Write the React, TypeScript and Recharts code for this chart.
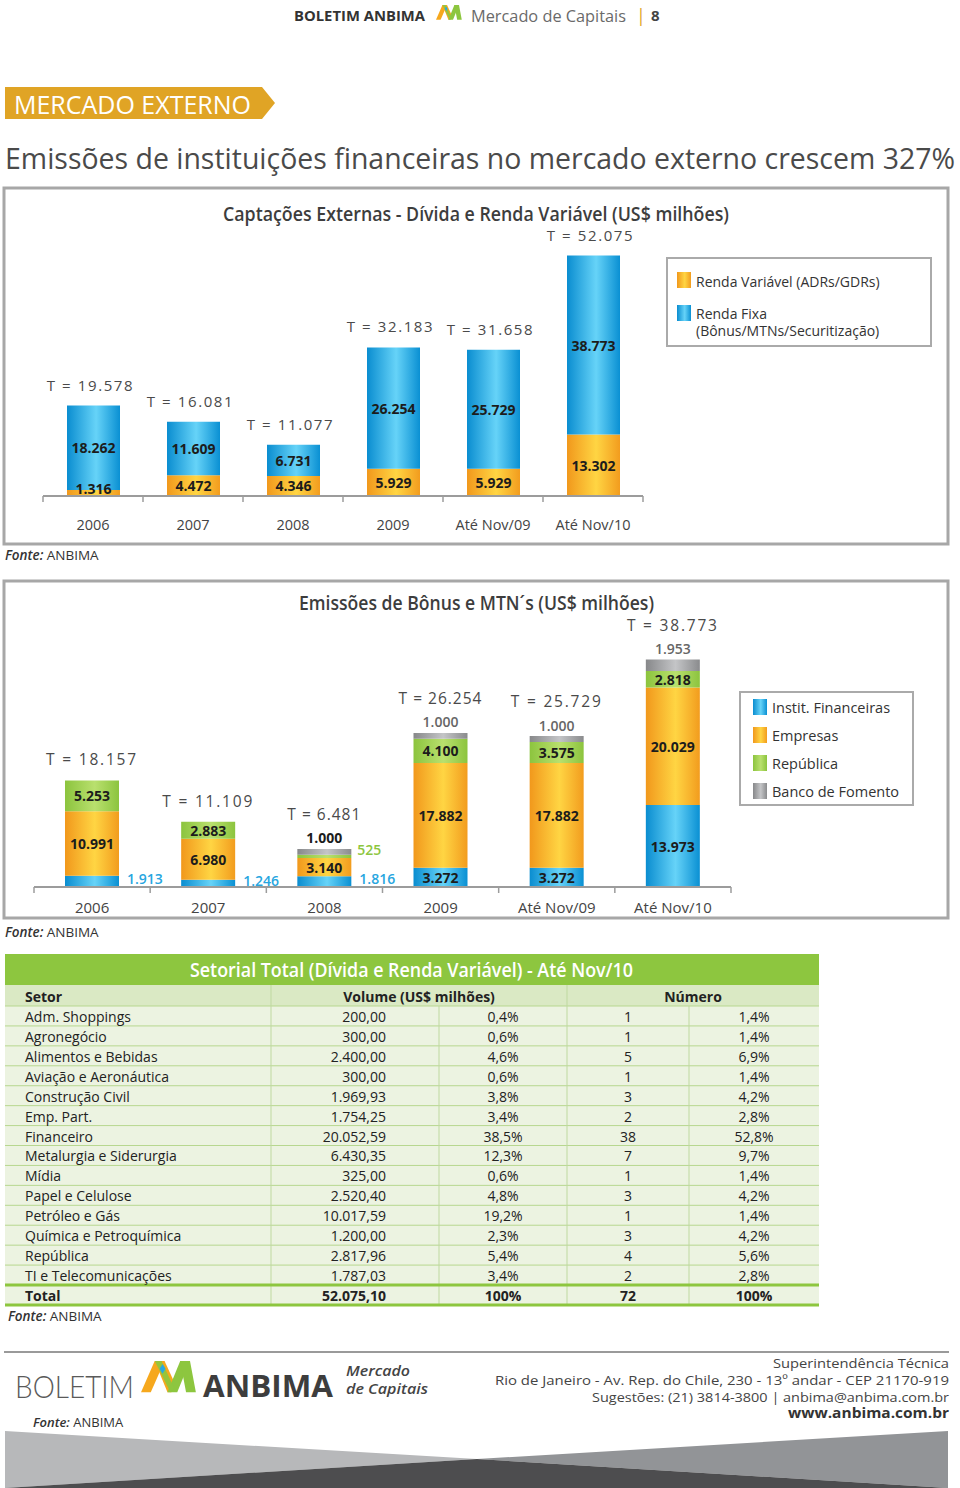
import React from 'react';
import { BarChart, Bar, XAxis, YAxis, LabelList } from 'recharts';

// ---------- Data: Captações Externas ----------
const captacoesCategorias = ['2006', '2007', '2008', '2009', 'Até Nov/09', 'Até Nov/10'];
const rendaVariavel = [1316, 4472, 4346, 5929, 5929, 13302];
const rendaFixa = [18262, 11609, 6731, 26254, 25729, 38773];
const captacoesTotais = [19578, 16081, 11077, 32183, 31658, 52075];

// ---------- Data: Emissões de Bônus e MTN's ----------
const bonusCategorias = ['2006', '2007', '2008', '2009', 'Até Nov/09', 'Até Nov/10'];
const institFinanceiras = [1913, 1246, 1816, 3272, 3272, 13973];
const empresas = [10991, 6980, 3140, 17882, 17882, 20029];
const republica = [5253, 2883, 525, 4100, 3575, 2818];
const bancoFomento = [0, 0, 1000, 1000, 1000, 1953];
const bonusTotais = [18157, 11109, 6481, 26254, 25729, 38773];

// ---------- Data: Setorial table ----------
const setores = [
  'Adm. Shoppings', 'Agronegócio', 'Alimentos e Bebidas', 'Aviação e Aeronáutica', 'Construção Civil',
  'Emp. Part.', 'Financeiro', 'Metalurgia e Siderurgia', 'Mídia', 'Papel e Celulose',
  'Petróleo e Gás', 'Química e Petroquímica', 'República', 'TI e Telecomunicações',
];
const volumes = [200.0, 300.0, 2400.0, 300.0, 1969.93, 1754.25, 20052.59, 6430.35, 325.0, 2520.4, 10017.59, 1200.0, 2817.96, 1787.03];
const volumePct = [0.4, 0.6, 4.6, 0.6, 3.8, 3.4, 38.5, 12.3, 0.6, 4.8, 19.2, 2.3, 5.4, 3.4];
const numeros = [1, 1, 5, 1, 3, 2, 38, 7, 1, 3, 1, 3, 4, 2];
const numeroPct = [1.4, 1.4, 6.9, 1.4, 4.2, 2.8, 52.8, 9.7, 1.4, 4.2, 1.4, 4.2, 5.6, 2.8];
const totalVolume = 52075.1;
const totalNumero = 72;

const FONT = "'Open Sans', 'Noto Sans', sans-serif";

const fmtInt = (n: number) => String(Math.round(n)).replace(/\B(?=(\d{3})+(?!\d))/g, '.');
const fmtDec = (n: number) => {
  const [i, d] = n.toFixed(2).split('.');
  return i.replace(/\B(?=(\d{3})+(?!\d))/g, '.') + ',' + d;
};
const fmtPct = (n: number) => n.toFixed(1).replace('.', ',') + '%';

const boxOf = (p: any) => {
  const v = p.viewBox || {};
  return {
    x: Number(v.x ?? p.x),
    y: Number(v.y ?? p.y),
    w: Number(v.width ?? p.width),
    h: Number(v.height ?? p.height),
  };
};

function BandTick(props: any) {
  const { x, y, payload, index, band, count, offset, fontSize } = props;
  const left = x - band / 2;
  const right = x + band / 2;
  return (
    <g>
      <line x1={left} x2={left} y1={y} y2={y + 6} stroke="#9c9c9c" strokeWidth={1.5} />
      {index === count - 1 && <line x1={right} x2={right} y1={y} y2={y + 6} stroke="#9c9c9c" strokeWidth={1.5} />}
      <text x={x} y={y + offset} textAnchor="middle" dominantBaseline="central" fontFamily={FONT} fontSize={fontSize} fill="#444">
        {payload.value}
      </text>
    </g>
  );
}

const Gradients = ({ prefix }: { prefix: string }) => (
  <defs>
    <linearGradient id={prefix + 'Blue'} x1="0" y1="0" x2="1" y2="0">
      <stop offset="0" stopColor="#0a8dd0" />
      <stop offset="0.55" stopColor="#66d3f8" />
      <stop offset="1" stopColor="#0a90d3" />
    </linearGradient>
    <linearGradient id={prefix + 'Orange'} x1="0" y1="0" x2="1" y2="0">
      <stop offset="0" stopColor="#f1981c" />
      <stop offset="0.55" stopColor="#ffd543" />
      <stop offset="1" stopColor="#f29c1e" />
    </linearGradient>
    <linearGradient id={prefix + 'Green'} x1="0" y1="0" x2="1" y2="0">
      <stop offset="0" stopColor="#8cc43e" />
      <stop offset="0.55" stopColor="#b9e06e" />
      <stop offset="1" stopColor="#8cc43e" />
    </linearGradient>
    <linearGradient id={prefix + 'Gray'} x1="0" y1="0" x2="1" y2="0">
      <stop offset="0" stopColor="#87888a" />
      <stop offset="0.55" stopColor="#c4c5c7" />
      <stop offset="1" stopColor="#8a8b8d" />
    </linearGradient>
  </defs>
);

// ---------- Chart 1 ----------
const C1 = { w: 700, h: 360, m: { top: 32, right: 57, left: 43, bottom: 11 } };
const c1Band = (C1.w - C1.m.left - C1.m.right) / captacoesCategorias.length;
const c1Data = captacoesCategorias.map((cat, i) => ({ cat, rv: rendaVariavel[i], rf: rendaFixa[i] }));
const c1Index = (b: { x: number; w: number }) => Math.floor((b.x + b.w / 2 - C1.m.left) / c1Band);

const c1Inner = (p: any) => {
  const b = boxOf(p);
  const cy = Math.min(b.y + b.h / 2, b.y + b.h - 8);
  return (
    <text x={b.x + b.w / 2} y={cy} textAnchor="middle" dominantBaseline="central" fontFamily={FONT} fontSize={14} fontWeight={700} fill="#1c1c1c">
      {fmtInt(Number(p.value))}
    </text>
  );
};
const c1Total = (p: any) => {
  const b = boxOf(p);
  const idx = c1Index(b);
  return (
    <text x={b.x + b.w / 2 - 3} y={b.y - 21} textAnchor="middle" dominantBaseline="central" fontFamily={FONT} fontSize={15} letterSpacing={1.6} fill="#4a4a4a">
      {'T = ' + fmtInt(captacoesTotais[idx])}
    </text>
  );
};

function Chart1() {
  return (
    <BarChart width={C1.w} height={C1.h} data={c1Data} margin={C1.m}>
      <Gradients prefix="c1" />
      <XAxis
        dataKey="cat"
        interval={0}
        height={40}
        tickSize={0}
        tickMargin={0}
        tickLine={false}
        axisLine={{ stroke: '#9c9c9c', strokeWidth: 2 }}
        tick={<BandTick band={c1Band} count={captacoesCategorias.length} offset={28} fontSize={14.5} />}
      />
      <YAxis hide domain={[0, 60000]} />
      <Bar dataKey="rv" stackId="a" fill="url(#c1Orange)" barSize={53} isAnimationActive={false}>
        <LabelList dataKey="rv" content={c1Inner} />
      </Bar>
      <Bar dataKey="rf" stackId="a" fill="url(#c1Blue)" barSize={53} isAnimationActive={false}>
        <LabelList dataKey="rf" content={c1Inner} />
        <LabelList dataKey="rf" content={c1Total} />
      </Bar>
    </BarChart>
  );
}

// ---------- Chart 2 ----------
const C2 = { w: 780, h: 340, m: { top: 43, right: 49, left: 34, bottom: 3 } };
const c2Band = (C2.w - C2.m.left - C2.m.right) / bonusCategorias.length;
const c2Data = bonusCategorias.map((cat, i) => ({
  cat,
  inst: institFinanceiras[i],
  emp: empresas[i],
  rep: republica[i],
  bf: bancoFomento[i],
}));
const c2Index = (b: { x: number; w: number }) => Math.floor((b.x + b.w / 2 - C2.m.left) / c2Band);

const c2Center = (p: any) => {
  const b = boxOf(p);
  return (
    <text x={b.x + b.w / 2} y={b.y + b.h / 2} textAnchor="middle" dominantBaseline="central" fontFamily={FONT} fontSize={14} fontWeight={700} fill="#1c1c1c">
      {fmtInt(Number(p.value))}
    </text>
  );
};
const c2Inst = (p: any) => {
  const b = boxOf(p);
  if (c2Index(b) < 3) {
    return (
      <text x={b.x + b.w + 8} y={b.y + b.h / 2 - 3} textAnchor="start" dominantBaseline="central" fontFamily={FONT} fontSize={14} fontWeight={600} fill="#27a6df">
        {fmtInt(Number(p.value))}
      </text>
    );
  }
  return c2Center(p);
};
const TotalLabel2 = ({ cx, y, idx }: { cx: number; y: number; idx: number }) => (
  <text x={cx} y={y} textAnchor="middle" dominantBaseline="central" fontFamily={FONT} fontSize={15.5} letterSpacing={idx === 2 || idx === 3 ? 1 : 1.8} fill="#4a4a4a">
    {'T = ' + fmtInt(bonusTotais[idx])}
  </text>
);
const c2Rep = (p: any) => {
  const b = boxOf(p);
  const idx = c2Index(b);
  const cx = b.x + b.w / 2;
  const showTotal = bancoFomento[idx] === 0;
  const valueLabel =
    Number(p.value) < 1000 ? (
      <text x={b.x + b.w + 6} y={b.y + b.h / 2 - 7} textAnchor="start" dominantBaseline="central" fontFamily={FONT} fontSize={14} fontWeight={600} fill="#8dc63f">
        {fmtInt(Number(p.value))}
      </text>
    ) : (
      c2Center(p)
    );
  return (
    <g>
      {valueLabel}
      {showTotal && <TotalLabel2 cx={cx} y={b.y - 21} idx={idx} />}
    </g>
  );
};
const c2Top = (p: any) => {
  const b = boxOf(p);
  const idx = c2Index(b);
  const v = Number(p.value);
  if (!(v > 0)) return null;
  const cx = b.x + b.w / 2;
  return (
    <g>
      <text x={cx} y={b.y - 11} textAnchor="middle" dominantBaseline="central" fontFamily={FONT} fontSize={14} fontWeight={idx === 2 ? 700 : 600} fill={idx === 2 ? '#1c1c1c' : '#666'}>
        {fmtInt(v)}
      </text>
      <TotalLabel2 cx={cx} y={b.y - 35} idx={idx} />
    </g>
  );
};

function Chart2() {
  return (
    <BarChart width={C2.w} height={C2.h} data={c2Data} margin={C2.m}>
      <Gradients prefix="c2" />
      <XAxis
        dataKey="cat"
        interval={0}
        height={30}
        tickSize={0}
        tickMargin={0}
        tickLine={false}
        axisLine={{ stroke: '#9c9c9c', strokeWidth: 2 }}
        tick={<BandTick band={c2Band} count={bonusCategorias.length} offset={20} fontSize={15} />}
      />
      <YAxis hide domain={[0, 45000]} />
      <Bar dataKey="inst" stackId="b" fill="url(#c2Blue)" barSize={54} isAnimationActive={false}>
        <LabelList dataKey="inst" content={c2Inst} />
      </Bar>
      <Bar dataKey="emp" stackId="b" fill="url(#c2Orange)" barSize={54} isAnimationActive={false}>
        <LabelList dataKey="emp" content={c2Center} />
      </Bar>
      <Bar dataKey="rep" stackId="b" fill="url(#c2Green)" barSize={54} isAnimationActive={false}>
        <LabelList dataKey="rep" content={c2Rep} />
      </Bar>
      <Bar dataKey="bf" stackId="b" fill="url(#c2Gray)" barSize={54} isAnimationActive={false}>
        <LabelList dataKey="bf" content={c2Top} />
      </Bar>
    </BarChart>
  );
}

// ---------- Decorations ----------
const Logo = ({ x, y, s }: { x: number; y: number; s: number }) => (
  <g transform={`translate(${x},${y}) scale(${s})`}>
    <polygon points="0,32 10,32 24,0 14,0" fill="#f6a81d" />
    <polygon points="14,0 24,0 36,26 31,32 27,32" fill="#f6a81d" />
    <polygon points="27,32 37,32 50,0 40,0" fill="#8dc63f" />
    <polygon points="40,0 50,0 56,32 46,32" fill="#8dc63f" />
    <polygon points="14,0 21,0 34,28 30,32" fill="#8dc63f" opacity={0.9} />
    <polygon points="19,8 22,3 25,8 22,13" fill="#2aa8e0" />
  </g>
);

const Fonte = ({ x, y, size = 13.5 }: { x: number; y: number; size?: number }) => (
  <text x={x} y={y} dominantBaseline="central" fontFamily={FONT} fontSize={size} fill="#333">
    <tspan fontStyle="italic" fontWeight={600}>Fonte:</tspan>
    <tspan> ANBIMA</tspan>
  </text>
);

const LegendSq = ({ x, y, fill }: { x: number; y: number; fill: string }) => <rect x={x} y={y} width={14} height={16} fill={fill} />;

const T0 = 1006;
const RH = 19.93;

export default function App() {
  return (
    <div style={{ position: 'absolute', left: 0, top: 0, width: 960, height: 1488, background: '#fff', overflow: 'hidden' }}>
      <svg width={960} height={1488} style={{ position: 'absolute', left: 0, top: 0 }}>
        <Gradients prefix="lg" />
        {/* Header */}
        <text x={294} y={15} dominantBaseline="central" fontFamily={FONT} fontSize={14} fontWeight={700} fill="#333" textLength={131} lengthAdjust="spacingAndGlyphs">BOLETIM ANBIMA</text>
        <Logo x={436} y={5} s={0.46} />
        <text x={471} y={15} dominantBaseline="central" fontFamily={FONT} fontSize={17} fill="#6a6a6a" textLength={155} lengthAdjust="spacingAndGlyphs">Mercado de Capitais</text>
        <text x={636} y={15} dominantBaseline="central" fontFamily={FONT} fontSize={18} fill="#e0a526">|</text>
        <text x={651} y={15} dominantBaseline="central" fontFamily={FONT} fontSize={15} fontWeight={700} fill="#444">8</text>

        {/* Banner */}
        <polygon points="5,87 262,87 275,103 262,119 5,119" fill="#e0a425" />
        <text x={14} y={104} dominantBaseline="central" fontFamily={FONT} fontSize={25} fill="#fff" textLength={237} lengthAdjust="spacingAndGlyphs">MERCADO EXTERNO</text>

        <text x={5} y={157} dominantBaseline="central" fontFamily={FONT} fontSize={30} fill="#4a4a4a" textLength={950} lengthAdjust="spacingAndGlyphs">
          Emissões de instituições financeiras no mercado externo crescem 327%
        </text>

        {/* Chart 1 frame */}
        <rect x={4} y={188} width={944} height={356} fill="none" stroke="#a7a7a7" strokeWidth={3} />
        <text x={223} y={213} dominantBaseline="central" fontFamily={FONT} fontSize={20} fontWeight={600} fill="#3d3d3d" textLength={506} lengthAdjust="spacingAndGlyphs">
          Captações Externas - Dívida e Renda Variável (US$ milhões)
        </text>
        <rect x={667} y={258} width={264} height={88} fill="#fff" stroke="#aaa" strokeWidth={2} />
        <LegendSq x={677} y={272} fill="url(#lgOrange)" />
        <text x={696} y={281} dominantBaseline="central" fontFamily={FONT} fontSize={14} fill="#333">Renda Variável (ADRs/GDRs)</text>
        <LegendSq x={677} y={305} fill="url(#lgBlue)" />
        <text x={696} y={313} dominantBaseline="central" fontFamily={FONT} fontSize={14} fill="#333">Renda Fixa</text>
        <text x={696} y={330} dominantBaseline="central" fontFamily={FONT} fontSize={14} fill="#333">(Bônus/MTNs/Securitização)</text>
        <Fonte x={5} y={555} />

        {/* Chart 2 frame */}
        <rect x={4} y={581} width={944} height={337} fill="none" stroke="#a7a7a7" strokeWidth={3} />
        <text x={299} y={603} dominantBaseline="central" fontFamily={FONT} fontSize={19} fontWeight={600} fill="#3d3d3d" textLength={355} lengthAdjust="spacingAndGlyphs">
          Emissões de Bônus e MTN´s (US$ milhões)
        </text>
        <rect x={740} y={692} width={173} height={113} fill="#fff" stroke="#aaa" strokeWidth={2} />
        {[
          ['Instit. Financeiras', 'url(#lgBlue)'],
          ['Empresas', 'url(#lgOrange)'],
          ['República', 'url(#lgGreen)'],
          ['Banco de Fomento', 'url(#lgGray)'],
        ].map(([label, fill], i) => (
          <g key={label}>
            <LegendSq x={753} y={699 + i * 28} fill={fill} />
            <text x={772} y={707 + i * 28} dominantBaseline="central" fontFamily={FONT} fontSize={14.5} fill="#333">{label}</text>
          </g>
        ))}
        <Fonte x={5} y={932} />

        {/* Table */}
        <rect x={5} y={954} width={814} height={31} fill="#8dc63f" />
        <text x={190} y={970} dominantBaseline="central" fontFamily={FONT} fontSize={19} fontWeight={600} fill="#fff" textLength={443} lengthAdjust="spacingAndGlyphs">
          Setorial Total (Dívida e Renda Variável) - Até Nov/10
        </text>
        <rect x={5} y={985} width={814} height={21} fill="#dae9c4" />
        <rect x={5} y={T0} width={814} height={1305 - T0} fill="#ecf3e1" />
        {setores.map((_, i) => (i > 0 ? <line key={'h' + i} x1={5} x2={819} y1={T0 + i * RH} y2={T0 + i * RH} stroke="#b7d78f" strokeWidth={1} /> : null))}
        <line x1={5} x2={819} y1={T0} y2={T0} stroke="#b7d78f" strokeWidth={1} />
        <line x1={271} x2={271} y1={985} y2={1305} stroke="#bfd9a0" strokeWidth={1} />
        <line x1={567} x2={567} y1={985} y2={1305} stroke="#bfd9a0" strokeWidth={1} />
        <line x1={439} x2={439} y1={T0} y2={1305} stroke="#bfd9a0" strokeWidth={1} />
        <line x1={689} x2={689} y1={T0} y2={1305} stroke="#bfd9a0" strokeWidth={1} />
        <line x1={5} x2={819} y1={T0 + 14 * RH} y2={T0 + 14 * RH} stroke="#8dc63f" strokeWidth={3} />
        <line x1={5} x2={819} y1={1305} y2={1305} stroke="#8dc63f" strokeWidth={3} />
        <text x={25} y={996} dominantBaseline="central" fontFamily={FONT} fontSize={14} fontWeight={700} fill="#222">Setor</text>
        <text x={419} y={996} textAnchor="middle" dominantBaseline="central" fontFamily={FONT} fontSize={14} fontWeight={700} fill="#222">Volume (US$ milhões)</text>
        <text x={693} y={996} textAnchor="middle" dominantBaseline="central" fontFamily={FONT} fontSize={14} fontWeight={700} fill="#222">Número</text>
        {setores.map((s, i) => {
          const cy = T0 + i * RH + RH / 2 + 0.5;
          return (
            <g key={s} fontFamily={FONT} fontSize={14} fill="#222">
              <text x={25} y={cy} dominantBaseline="central">{s}</text>
              <text x={386} y={cy} textAnchor="end" dominantBaseline="central">{fmtDec(volumes[i])}</text>
              <text x={503} y={cy} textAnchor="middle" dominantBaseline="central">{fmtPct(volumePct[i])}</text>
              <text x={628} y={cy} textAnchor="middle" dominantBaseline="central">{numeros[i]}</text>
              <text x={754} y={cy} textAnchor="middle" dominantBaseline="central">{fmtPct(numeroPct[i])}</text>
            </g>
          );
        })}
        <g fontFamily={FONT} fontSize={14} fontWeight={700} fill="#222">
          <text x={25} y={1295.5} dominantBaseline="central">Total</text>
          <text x={386} y={1295.5} textAnchor="end" dominantBaseline="central">{fmtDec(totalVolume)}</text>
          <text x={503} y={1295.5} textAnchor="middle" dominantBaseline="central">100%</text>
          <text x={628} y={1295.5} textAnchor="middle" dominantBaseline="central">{totalNumero}</text>
          <text x={754} y={1295.5} textAnchor="middle" dominantBaseline="central">100%</text>
        </g>
        <Fonte x={8} y={1316} />

        {/* Footer */}
        <line x1={4} x2={949} y1={1352} y2={1352} stroke="#9a9a9a" strokeWidth={2} />
        <text x={15} y={1385} dominantBaseline="central" fontFamily="Lato, 'Open Sans', sans-serif" fontSize={32} fontWeight={300} fill="#5a5a5a" textLength={119} lengthAdjust="spacingAndGlyphs">BOLETIM</text>
        <Logo x={141} y={1361} s={0.98} />
        <text x={203} y={1385} dominantBaseline="central" fontFamily={FONT} fontSize={31} fontWeight={700} fill="#3d3d3d" textLength={130} lengthAdjust="spacingAndGlyphs">ANBIMA</text>
        <text x={346} y={1370} dominantBaseline="central" fontFamily={FONT} fontSize={14} fontStyle="italic" fontWeight={600} fill="#444" textLength={64} lengthAdjust="spacingAndGlyphs">Mercado</text>
        <text x={346} y={1388} dominantBaseline="central" fontFamily={FONT} fontSize={14} fontStyle="italic" fontWeight={600} fill="#444" textLength={82} lengthAdjust="spacingAndGlyphs">de Capitais</text>
        <text x={949} y={1363} textAnchor="end" dominantBaseline="central" fontFamily={FONT} fontSize={13.5} fill="#444" textLength={176} lengthAdjust="spacingAndGlyphs">Superintendência Técnica</text>
        <text x={949} y={1380} textAnchor="end" dominantBaseline="central" fontFamily={FONT} fontSize={13.5} fill="#444" textLength={454} lengthAdjust="spacingAndGlyphs">Rio de Janeiro - Av. Rep. do Chile, 230 - 13º andar - CEP 21170-919</text>
        <text x={949} y={1397} textAnchor="end" dominantBaseline="central" fontFamily={FONT} fontSize={13.5} fill="#444" textLength={357} lengthAdjust="spacingAndGlyphs">Sugestões: (21) 3814-3800 | anbima@anbima.com.br</text>
        <text x={949} y={1413} textAnchor="end" dominantBaseline="central" fontFamily={FONT} fontSize={13.5} fontWeight={700} fill="#333" textLength={161} lengthAdjust="spacingAndGlyphs">www.anbima.com.br</text>
        <Fonte x={33} y={1422} size={13} />

        <polygon points="5,1431 477,1459 5,1488" fill="#b7b8ba" />
        <polygon points="948,1431 477,1459 948,1488" fill="#929497" />
        <polygon points="5,1488 477,1459 948,1488" fill="#4d4d4f" />
      </svg>

      <div style={{ position: 'absolute', left: 0, top: 187 }}>
        <Chart1 />
      </div>
      <div style={{ position: 'absolute', left: 0, top: 580 }}>
        <Chart2 />
      </div>
    </div>
  );
}
